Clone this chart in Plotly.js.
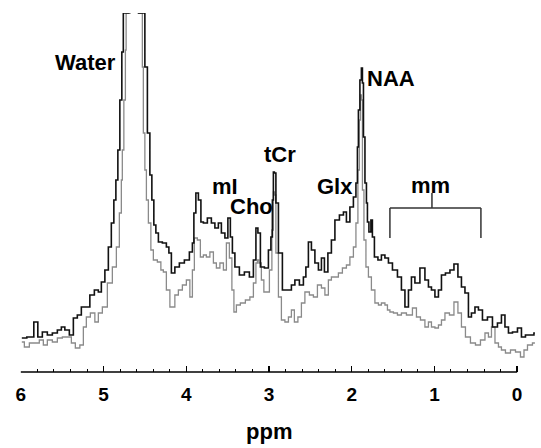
<!DOCTYPE html>
<html>
<head>
<meta charset="utf-8">
<script src="https://cdn.plot.ly/plotly-3.0.1.min.js"></script>
<style>html,body{margin:0;padding:0;background:#fff;}#chart{width:541px;height:448px;}</style>
</head>
<body>
<div id="chart"></div>
<script>
// Chemical shift (ppm) and intensity (arbitrary units), black spectrum
const ppmBlack = [5.988,5.867,5.819,5.770,5.710,5.649,5.589,5.528,5.492,5.444,5.383,5.347,5.287,5.250,5.190,5.141,5.081,5.045,5.008,4.960,4.924,4.888,4.863,4.839,4.815,4.791,4.767,4.755,4.634,4.513,4.488,4.452,4.428,4.404,4.380,4.355,4.319,4.259,4.222,4.198,4.162,4.114,4.053,3.993,3.932,3.920,3.896,3.872,3.835,3.811,3.775,3.715,3.678,3.630,3.594,3.557,3.509,3.485,3.449,3.436,3.388,3.328,3.267,3.207,3.170,3.146,3.122,3.086,3.025,2.989,2.965,2.953,2.941,2.929,2.904,2.868,2.808,2.747,2.711,2.663,2.602,2.566,2.542,2.505,2.469,2.421,2.384,2.348,2.312,2.264,2.227,2.179,2.118,2.082,2.046,1.998,1.961,1.937,1.925,1.913,1.889,1.877,1.864,1.852,1.828,1.816,1.804,1.780,1.756,1.744,1.707,1.659,1.623,1.574,1.538,1.477,1.417,1.381,1.332,1.296,1.260,1.212,1.139,1.091,1.054,1.018,0.970,0.933,0.897,0.837,0.788,0.740,0.692,0.655,0.607,0.571,0.534,0.486,0.450,0.389,0.329,0.268,0.208,0.172,0.123,0.087,0.026,-0.034,-0.070,-0.131,-0.191,-0.215];
const intBlack = [34,35,50,35,40,37,39,42,45,42,37,54,57,65,65,77,82,80,90,102,125,149,172,192,222,272,320,359,1400,359,305,239,197,172,147,139,130,129,125,119,99,105,109,112,120,129,159,179,172,150,149,154,149,144,149,139,134,154,135,119,105,97,100,95,112,144,139,105,104,122,135,172,200,199,169,119,82,82,87,92,87,95,105,130,122,109,102,114,100,119,132,152,157,160,150,165,175,189,225,262,292,304,289,235,189,169,150,140,152,135,115,112,117,114,109,102,95,82,65,82,95,89,104,92,85,82,75,82,97,99,102,108,95,85,79,55,59,65,62,52,55,45,49,57,45,39,40,44,35,37,37,39];

// Gray spectrum
const ppmGray = [5.988,5.927,5.867,5.807,5.746,5.710,5.649,5.589,5.528,5.468,5.407,5.371,5.311,5.262,5.226,5.190,5.129,5.081,5.045,4.984,4.924,4.863,4.827,4.791,4.779,4.767,4.742,4.730,4.724,4.630,4.537,4.525,4.513,4.488,4.476,4.440,4.416,4.380,4.319,4.295,4.259,4.222,4.174,4.162,4.114,4.077,4.017,3.981,3.932,3.920,3.884,3.848,3.811,3.775,3.739,3.690,3.654,3.618,3.569,3.533,3.497,3.461,3.436,3.412,3.376,3.316,3.255,3.207,3.170,3.146,3.134,3.110,3.074,3.050,3.013,2.977,2.953,2.941,2.929,2.904,2.868,2.832,2.783,2.747,2.711,2.675,2.626,2.590,2.542,2.481,2.445,2.384,2.348,2.300,2.264,2.227,2.179,2.143,2.082,2.046,1.998,1.961,1.937,1.913,1.901,1.889,1.877,1.864,1.840,1.816,1.780,1.744,1.695,1.659,1.623,1.574,1.562,1.514,1.477,1.417,1.381,1.296,1.236,1.199,1.139,1.091,1.054,1.018,0.970,0.933,0.897,0.849,0.788,0.740,0.692,0.655,0.595,0.534,0.474,0.413,0.365,0.329,0.292,0.244,0.208,0.172,0.111,0.050,-0.010,-0.070,-0.095,-0.155,-0.215];
const intGray = [30,25,29,29,32,27,32,30,34,35,35,29,24,27,45,55,59,50,59,65,89,105,125,159,192,222,272,322,359,1300,359,305,239,202,172,149,122,112,110,102,100,82,65,65,77,82,87,92,75,102,134,132,115,117,115,120,109,104,109,102,129,114,82,60,67,69,72,75,89,109,112,109,92,80,80,102,142,180,177,119,75,52,50,55,62,50,55,69,80,77,75,87,84,77,92,95,95,99,104,107,115,125,149,202,252,277,272,182,132,105,95,82,69,67,69,67,62,60,59,57,59,57,64,55,52,45,50,45,44,47,52,59,57,70,59,45,35,29,27,32,39,35,45,29,25,22,19,22,20,15,22,27,29];

// Axis ticks
const majorTicks = [6,5,4,3,2,1,0];
const majorLabels = ['6','5','4','3','2','1','0'];
const minorTicks = [5.8,5.6,5.4,5.2,4.8,4.6,4.4,4.2,3.8,3.6,3.4,3.2,2.8,2.6,2.4,2.2,1.8,1.6,1.4,1.2,0.8,0.6,0.4,0.2];

// Peak labels
const peakNames = ['Water','mI','Cho','tCr','Glx','NAA','mm'];
const peakX = [5.214,3.533,3.207,2.868,2.203,1.526,1.042];
const peakY = [310,186,166,218,186,294,187];

const lblFont = {family:'Liberation Sans, Arial, sans-serif', size:22, color:'#000', weight:'bold'};

const traces = [
  {x: ppmGray, y: intGray, type:'scatter', mode:'lines', line:{color:'#8a8a8a', width:1.3, shape:'hvh'}, hoverinfo:'skip'},
  {x: ppmBlack, y: intBlack, type:'scatter', mode:'lines', line:{color:'#111', width:1.6, shape:'hvh'}, hoverinfo:'skip'}
];

const annotations = peakNames.map((t,i)=>({
  x: peakX[i], y: peakY[i], xref:'x', yref:'y', text:t, showarrow:false,
  xanchor:'center', yanchor:'middle', font: lblFont
}));
annotations.push({x:3, y:-0.165, xref:'x', yref:'paper', text:'ppm', showarrow:false,
  xanchor:'center', yanchor:'middle', font:{family:'Liberation Sans, Arial, sans-serif', size:22, color:'#000', weight:'bold'}});

const bracket = {color:'#333', width:1.5};
const shapes = [
  {type:'line', xref:'x', yref:'paper', x0:6, x1:0, y0:0, y1:0, line:{color:'#000', width:1.5}},
  {type:'line', xref:'x', yref:'y', x0:1.538, x1:0.438, y0:164, y1:164, line:bracket},
  {type:'line', xref:'x', yref:'y', x0:1.538, x1:1.538, y0:164, y1:134, line:bracket},
  {type:'line', xref:'x', yref:'y', x0:0.438, x1:0.438, y0:164, y1:134, line:bracket},
  {type:'line', xref:'x', yref:'y', x0:1.030, x1:1.030, y0:164, y1:179, line:bracket}
];

const layout = {
  width:541, height:448,
  margin:{l:20, r:4, t:13, b:76, pad:0},
  paper_bgcolor:'#fff', plot_bgcolor:'#fff',
  showlegend:false,
  xaxis:{
    range:[6.01,-0.24], showline:false, showgrid:false, zeroline:false,
    tickmode:'array', tickvals:majorTicks, ticktext:majorLabels,
    ticks:'inside', ticklen:6, tickwidth:1.5, tickcolor:'#000',
    ticklabelstandoff:9,
    tickfont:{family:'Liberation Sans, Arial, sans-serif', size:19, color:'#000', weight:'bold'},
    minor:{tickmode:'array', tickvals:minorTicks, ticks:'inside', ticklen:3, tickwidth:1, tickcolor:'#000', showgrid:false},
    fixedrange:true
  },
  yaxis:{range:[0,359], visible:false, fixedrange:true},
  annotations: annotations,
  shapes: shapes
};

Plotly.newPlot('chart', traces, layout, {displayModeBar:false, staticPlot:true});
</script>
</body>
</html>
